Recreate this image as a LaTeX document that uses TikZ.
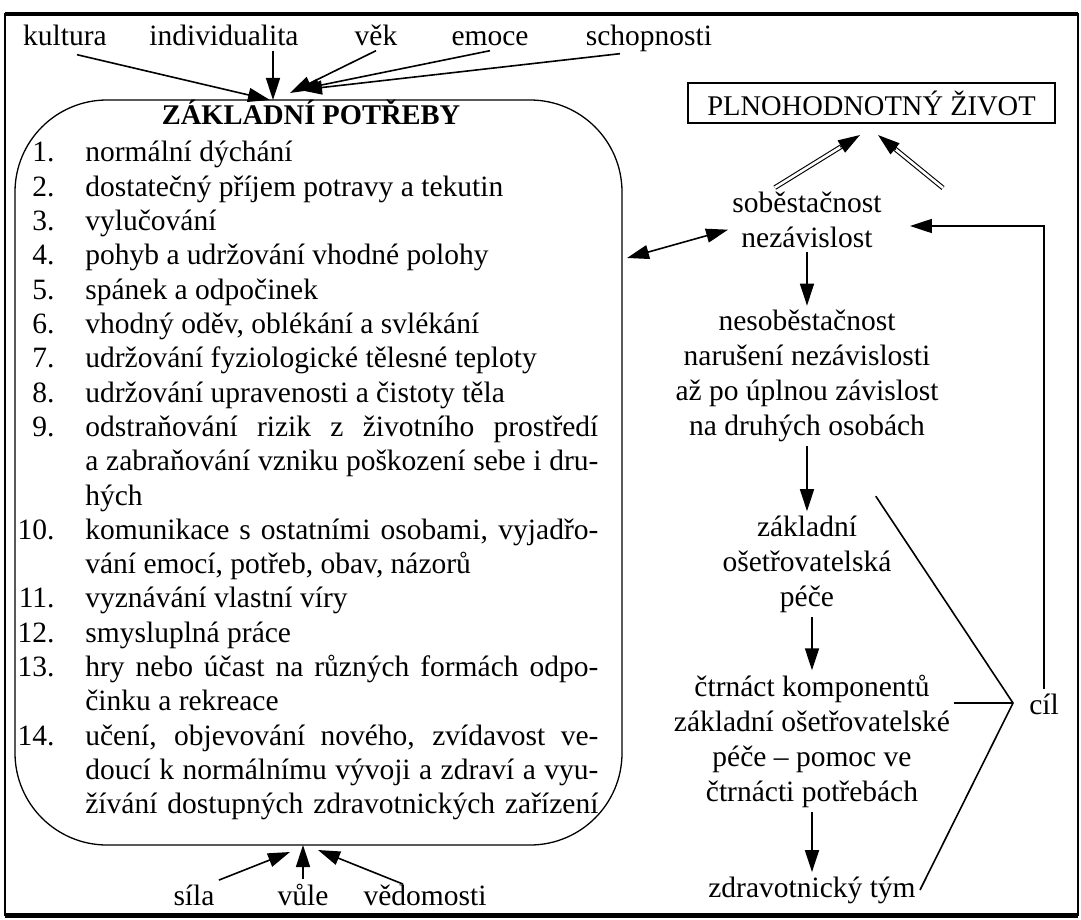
\documentclass[tikz,border=0pt]{standalone}
\usepackage{fontspec}
\setmainfont{Liberation Serif}
\usetikzlibrary{positioning, arrows.meta, calc}

\newcommand{\jl}[1]{\makebox[256.5pt][s]{#1}}

\begin{document}
\begin{tikzpicture}[x=0.5pt, y=-0.5pt,
    txt/.style={font=\fontsize{14.75}{17.5}\selectfont, inner sep=2pt},
    caps/.style={font=\fontsize{14.25}{17.5}\selectfont},
    lbl/.style={txt, anchor=base},
    blk/.style={txt, align=center},
    item/.style={txt, anchor=base west, inner sep=0pt},
    num/.style={txt, anchor=base east, inner sep=0pt},
    ln/.style={line width=0.8pt},
    arr/.style={ln, -{Triangle[length=11pt,width=7pt]}},
    arrb/.style={ln, {Triangle[length=11pt,width=7pt]}-{Triangle[length=11pt,width=7pt]}},
    dbl/.style={double, double distance=1.3pt, line width=0.55pt, shorten >=9pt}
]
\fill[white] (0,0) rectangle (1081,920);
\useasboundingbox (0,0) rectangle (1081,920);
% ramecek
\draw[line width=0.8pt] (5,14) rectangle (1078,915);
\draw[line width=2pt] (5,14) -- (1078,14);
\draw[line width=2.5pt] (5,915) -- (1078,915);

% zakladni potreby
\node[draw, line width=0.65pt, rounded corners=46pt, minimum width=303.5pt, minimum height=372.5pt] (needs) at (318.5,472.5) {};
\node[txt, caps, font=\fontsize{14.25}{17.5}\selectfont\bfseries, anchor=base] (title) at (311,125) {ZÁKLADNÍ POTŘEBY};
\foreach \n/\r in {1/0,2/1,3/2,4/3,5/4,6/5,7/6,8/7,9/8,10/11,11/13,12/14,13/15,14/17}
    \node[num] (n\n) at (55, {162+34.3*\r}) {\n.};
\foreach \r/\t in {
    0/{normální dýchání},
    1/{dostatečný příjem potravy a tekutin},
    2/{vylučování},
    3/{pohyb a udržování vhodné polohy},
    4/{spánek a odpočinek},
    5/{vhodný oděv, oblékání a svlékání},
    6/{udržování fyziologické tělesné teploty},
    7/{udržování upravenosti a čistoty těla},
    8/{\jl{odstraňování rizik z životního prostředí}},
    9/{\jl{a zabraňování vzniku poškození sebe i dru-}},
    10/{hých},
    11/{\jl{komunikace s ostatními osobami, vyjadřo-}},
    12/{vání emocí, potřeb, obav, názorů},
    13/{vyznávání vlastní víry},
    14/{smysluplná práce},
    15/{\jl{hry nebo účast na různých formách odpo-}},
    16/{činku a rekreace},
    17/{\jl{učení, objevování nového, zvídavost ve-}},
    18/{\jl{doucí k normálnímu vývoji a zdraví a vyu-}},
    19/{\jl{žívání dostupných zdravotnických zařízení}}}
    \node[item] (l\r) at (85, {162+34.3*\r}) {\t};

% vlivy nahore
\node[lbl] (kult) at (65,46) {kultura};
\node[lbl] (indiv) at (224,46) {individualita};
\node[lbl] (vek) at (376,46) {věk};
\node[lbl] (emoce) at (490,46) {emoce};
\node[lbl] (schop) at (649,46) {schopnosti};
\coordinate (t1) at (270,100);
\coordinate (t2) at (273,100);
\coordinate (t3) at (290,93);
\coordinate (t4) at (297,90);
\coordinate (t5) at (300,90);
\draw[arr] ($(kult.south)+(12,4)$) -- (t1);
\draw[arr] (indiv.south -| t2) -- (t2);
\draw[arr] (vek.south) -- (t3);
\draw[arr] (emoce.south) -- (t4);
\draw[arr] ($(schop.south)+(-29,-3)$) -- (t5);

% vlivy dole
\node[lbl] (sila) at (194,905) {síla};
\node[lbl] (vule) at (303,905) {vůle};
\node[lbl] (vedom) at (425,905) {vědomosti};
\coordinate (b1) at (290,852);
\coordinate (b2) at (303,845);
\coordinate (b3) at (318,850);
\draw[arr] (sila.north east) -- (b1);
\draw[arr] (vule.north) -- (b2);
\draw[arr] ($(vedom.north)+(-22,4)$) -- (b3);

% pravy sloupec
\node[draw, txt, caps, line width=0.6pt, minimum width=183.5pt, minimum height=20pt, inner sep=0pt] (plno) at (871.5,103) {PLNOHODNOTNÝ ŽIVOT};
\node[blk] (sob) at (807,220) {soběstačnost\\nezávislost};
\node[blk] (nesob) at (807,376) {nesoběstačnost\\narušení nezávislosti\\až po úplnou závislost\\na druhých osobách};
\node[blk] (zakl) at (807,564) {základní\\ošetřovatelská\\péče};
\node[blk] (ctrn) at (812,741) {čtrnáct komponentů\\základní ošetřovatelské\\péče -- pomoc ve\\čtrnácti potřebách};
\node[lbl] (zdrav) at (812,897) {zdravotnický tým};
\node[lbl] (cil) at (1044,714) {cíl};

\coordinate (p1) at (860,135);
\coordinate (p2) at (878,135);
\coordinate (s2) at (943,188);
\draw[dbl] (sob.135) -- (p1);
\draw[arr] ($(p1)!11.5pt!(sob.135)$) -- (p1);
\draw[dbl] (s2) -- (p2);
\draw[arr] ($(p2)!11.5pt!(s2)$) -- (p2);

\coordinate (bx) at (627,258);
\draw[arrb] (bx) -- (sob.187);
\draw[arr] (sob) -- (nesob);
\draw[arr] (nesob) -- (zakl);
\draw[arr] (zakl.south -| ctrn.north) -- (ctrn.north);
\draw[arr] (ctrn) -- (zdrav);
\draw[arr] (cil.north) |- ($(sob.east)+(24,6)$);

% cil
\coordinate (v) at (1013,703);
\draw[ln] ($(zakl.north east)+(-20,-15)$) -- (v) -- (zdrav.east);
\draw[ln] (ctrn.east |- v) -- (v);
\end{tikzpicture}
\end{document}
